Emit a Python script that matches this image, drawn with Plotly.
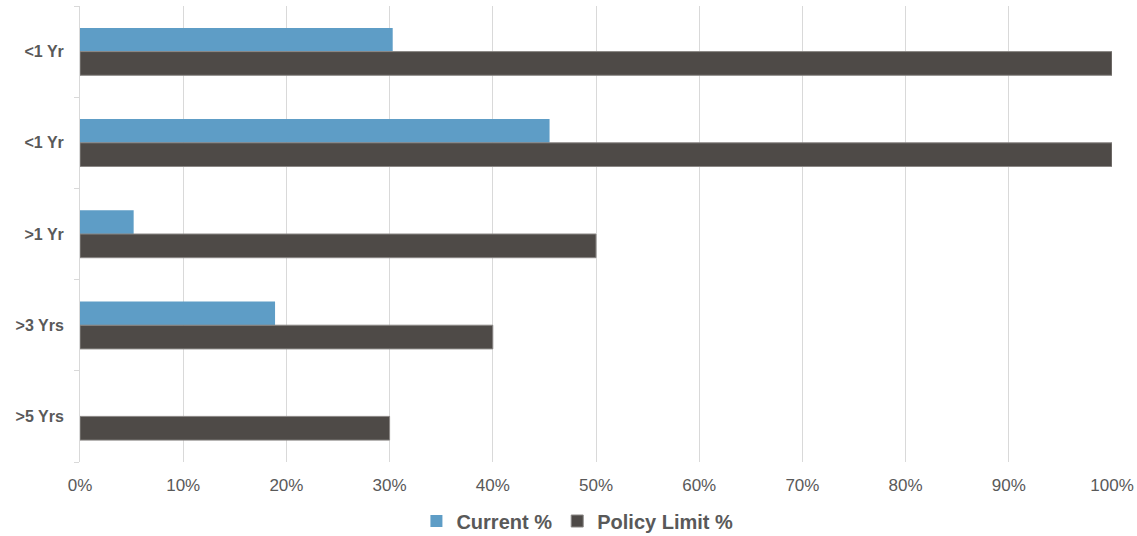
import plotly.graph_objects as go

# Maturity buckets (top to bottom) and their shares
categories = ["<1 Yr", "<1 Yr", ">1 Yr", ">3 Yrs", ">5 Yrs"]
current_pct = [30.3, 45.5, 5.2, 18.9, 0]
policy_limit_pct = [100, 100, 50, 40, 30]

positions = list(range(len(categories)))

fig = go.Figure()
fig.add_trace(go.Bar(
    y=positions, x=current_pct, orientation="h", name="Current %",
    marker=dict(color="#5E9DC6", line=dict(width=0)),
))
fig.add_trace(go.Bar(
    y=positions, x=policy_limit_pct, orientation="h", name="Policy Limit %",
    marker=dict(color="#4E4A47", line=dict(color="#8A8785", width=1)),
))

fig.update_layout(
    width=1137, height=536,
    margin=dict(l=80, r=25, t=6, b=74, autoexpand=False),
    barmode="group", bargap=0.48, bargroupgap=0,
    plot_bgcolor="white", paper_bgcolor="white",
    font=dict(family="Liberation Sans, Arial, sans-serif", color="#595959"),
    legend=dict(
        orientation="h", x=0.482, xanchor="center",
        yref="container", y=1 - 521 / 536, yanchor="middle",
        font=dict(size=20, color="#595959", family="Liberation Sans, Arial, sans-serif", weight="bold"),
        itemwidth=30, traceorder="normal",
    ),
    showlegend=True,
)

fig.update_xaxes(
    range=[0, 100], dtick=10, ticksuffix="%",
    showgrid=True, gridcolor="#D9D9D9", gridwidth=1,
    zeroline=False, showline=False, ticks="",
    tickfont=dict(size=17, color="#595959"),
    ticklabelstandoff=11,
)

fig.update_yaxes(
    range=[len(categories) - 0.5, -0.5],
    tickmode="array", tickvals=positions, ticktext=categories,
    ticks="", showgrid=False, zeroline=False,
    showline=True, linecolor="#D9D9D9", linewidth=1,
    tickfont=dict(size=16, color="#595959", weight="bold"),
    ticklabelstandoff=12,
    minor=dict(tick0=-0.5, dtick=1, ticks="outside", ticklen=5,
               tickcolor="#D9D9D9", showgrid=False),
)

fig.write_html("out.html")
